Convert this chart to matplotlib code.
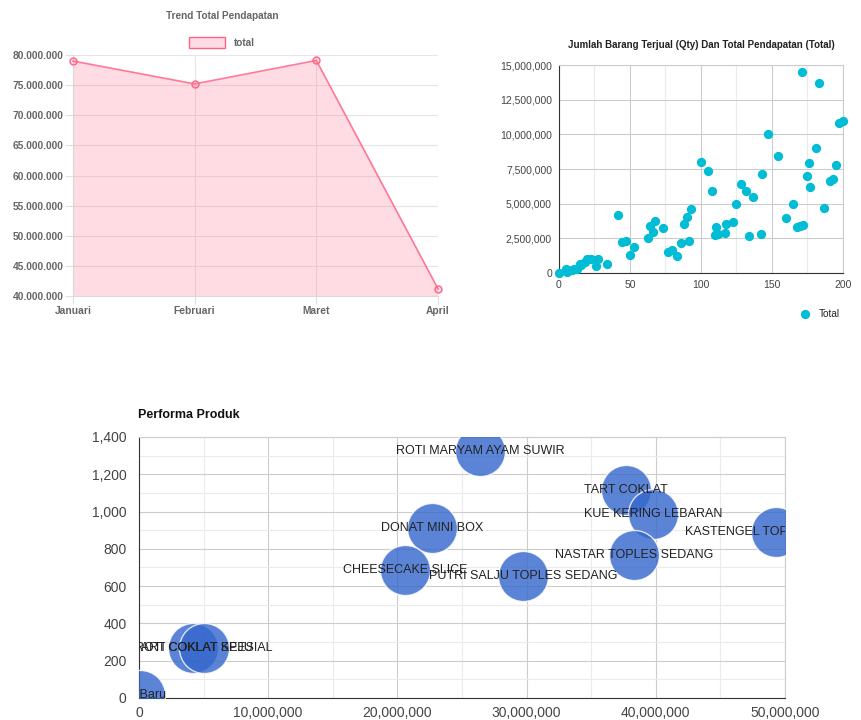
"""
Dashboard penjualan: trend pendapatan, qty vs total, dan performa produk.
"""

import matplotlib
matplotlib.use("Agg")
import matplotlib.pyplot as plt
from matplotlib.patches import Patch
from matplotlib.ticker import FuncFormatter, MultipleLocator

plt.rcParams["font.family"] = ["Liberation Sans", "DejaVu Sans"]

# --- data: trend total pendapatan ---
bulan = ["Januari", "Februari", "Maret", "April"]
total_bulanan = [79000000, 75200000, 79100000, 41200000]

# --- data: qty vs total pendapatan ---
qty = [0, 4.7, 6, 9, 10.6, 13, 14.6, 15.5, 18.3, 20, 22.3, 25.9, 27.7, 33.6,
       41.8, 44.7, 47, 50, 52.9, 63, 63.9, 66, 67.9, 73, 77, 79.9, 83, 86,
       87.9, 90, 91.9, 93, 99.9, 105, 107.8, 110, 110.7, 112.3, 117, 118,
       122.9, 125, 127.9, 132, 134, 137, 142, 143, 146.9, 154, 160, 165,
       168, 170, 172, 171, 175, 176, 177, 181, 183, 187, 190.6, 193, 195,
       197, 200]
total = [0, 310000, 100000, 200000, 260000, 310000, 620000, 600000, 800000,
         1030000, 1030000, 480000, 980000, 620000, 4200000, 2250000, 2340000,
         1270000, 1870000, 2500000, 3400000, 2970000, 3750000, 3280000,
         1550000, 1630000, 1240000, 2150000, 3500000, 4040000, 2320000,
         4640000, 8010000, 7340000, 5930000, 2750000, 3350000, 2800000,
         2920000, 3540000, 3680000, 5000000, 6410000, 5930000, 2700000,
         5480000, 2850000, 7150000, 10000000, 8470000, 4000000, 4950000,
         3350000, 3400000, 3470000, 14500000, 7000000, 7900000, 6200000,
         9040000, 13700000, 4660000, 6670000, 6750000, 7800000, 10800000,
         10980000]

# --- data: performa produk ---
produk = ["ROTI MARYAM AYAM SUWIR", "TART COKLAT", "KUE KERING LEBARAN",
          "KASTENGEL TOPLES SEDANG", "DONAT MINI BOX", "NASTAR TOPLES SEDANG",
          "CHEESECAKE SLICE", "PUTRI SALJU TOPLES SEDANG", "TART COKLAT KEJU",
          "ROTI COKLAT SPESIAL", "Kue Baru"]
pendapatan_produk = [26400000, 37700000, 39800000, 49300000, 22700000,
                     38300000, 20600000, 29700000, 4200000, 5000000, 50000]
qty_produk = [1325, 1115, 987, 890, 912, 767, 686, 654, 270, 270, 15]

fig = plt.figure(figsize=(8.61, 7.2), dpi=100)

# ---------- trend total pendapatan ----------
pink = "#ff6384"
ax1 = fig.add_axes([0.0848, 0.5889, 0.4239, 0.3347])
xs = list(range(len(bulan)))
ax1.fill_between(xs, total_bulanan, 40000000, color=pink, alpha=0.22, lw=0)
ax1.plot(xs, total_bulanan, color=(1, 0.39, 0.52, 0.85), lw=1.2, marker="o",
         markersize=5, markerfacecolor=(1, 0.39, 0.52, 0.2),
         markeredgecolor=pink, markeredgewidth=1, clip_on=False, zorder=3)
ax1.set_xlim(0, 3)
ax1.set_ylim(40000000, 80000000)
ax1.set_xticks(xs)
ax1.set_xticklabels(bulan)
ax1.yaxis.set_major_locator(MultipleLocator(5000000))
ax1.yaxis.set_major_formatter(
    FuncFormatter(lambda v, p: f"{v:,.0f}".replace(",", ".")))
ax1.grid(True, color="#e6e6e6", lw=0.8)
ax1.set_axisbelow(True)
for s in ["top", "right"]:
    ax1.spines[s].set_visible(False)
for s in ["left", "bottom"]:
    ax1.spines[s].set_color("#d9d9d9")
ax1.tick_params(colors="#e0e0e0", length=6, pad=1, labelsize=7.4,
                labelcolor="#666666")
for lab in ax1.get_xticklabels() + ax1.get_yticklabels():
    lab.set_fontweight("bold")
ax1.set_title("Trend Total Pendapatan", fontsize=7.2, fontweight="bold",
              color="#666666", pad=26, x=0.408)
ax1.legend(handles=[Patch(facecolor=(1, 0.39, 0.52, 0.22), edgecolor=pink,
                          label="total")],
           loc="lower center", bbox_to_anchor=(0.408, 1.005), frameon=False,
           handlelength=3.6, handleheight=1.2, prop={"size": 7.2, "weight": "bold"},
           labelcolor="#666666", borderaxespad=0.2)

# ---------- qty vs total ----------
cyan = "#00bcd4"
ax2 = fig.add_axes([0.6492, 0.6208, 0.3298, 0.2889])
ax2.scatter(qty, total, s=32, color=cyan, zorder=3, label="Total",
            clip_on=False)
ax2.set_xlim(0, 200)
ax2.set_ylim(0, 15000000)
ax2.xaxis.set_major_locator(MultipleLocator(50))
ax2.xaxis.set_minor_locator(MultipleLocator(25))
ax2.yaxis.set_major_locator(MultipleLocator(2500000))
ax2.yaxis.set_major_formatter(FuncFormatter(lambda v, p: f"{v:,.0f}"))
ax2.grid(True, which="major", color="#cccccc", lw=0.8)
ax2.grid(True, which="minor", axis="x", color="#ebebeb", lw=0.8)
ax2.set_axisbelow(True)
for s in ["top", "right"]:
    ax2.spines[s].set_color("#cccccc")
for s in ["left", "bottom"]:
    ax2.spines[s].set_color("#333333")
ax2.tick_params(which="both", length=0, labelsize=7.5, labelcolor="#444444", pad=5)
ax2.set_title("Jumlah Barang Terjual (Qty) Dan Total Pendapatan (Total)",
              fontsize=7, fontweight="bold", color="#222222", pad=12)
ax2.legend(loc="upper right", bbox_to_anchor=(1.02, -0.13), frameon=False,
           fontsize=7.2, handletextpad=0.3, markerscale=1.0, labelcolor="#222222")

# ---------- performa produk ----------
ax3 = fig.add_axes([0.1614, 0.0306, 0.7503, 0.3625])
ax3.scatter(pendapatan_produk, qty_produk, s=1300, color="#3366cc", alpha=0.8,
            edgecolors="white", linewidths=1, zorder=3)
for nama, xv, yv in zip(produk, pendapatan_produk, qty_produk):
    ax3.text(xv, yv, nama, ha="center", va="center", fontsize=9,
             color="#222222", zorder=4, clip_on=True)
ax3.set_xlim(0, 50000000)
ax3.set_ylim(0, 1400)
ax3.xaxis.set_major_locator(MultipleLocator(10000000))
ax3.xaxis.set_minor_locator(MultipleLocator(5000000))
ax3.yaxis.set_major_locator(MultipleLocator(200))
ax3.yaxis.set_minor_locator(MultipleLocator(100))
ax3.xaxis.set_major_formatter(FuncFormatter(lambda v, p: f"{v:,.0f}"))
ax3.yaxis.set_major_formatter(FuncFormatter(lambda v, p: f"{v:,.0f}"))
ax3.grid(True, which="major", color="#cccccc", lw=0.8)
ax3.grid(True, which="minor", color="#ebebeb", lw=0.8)
ax3.set_axisbelow(True)
for s in ["top", "right"]:
    ax3.spines[s].set_color("#cccccc")
for s in ["left", "bottom"]:
    ax3.spines[s].set_color("#333333")
ax3.tick_params(which="both", length=0, labelsize=10, labelcolor="#444444")
ax3.tick_params(axis="y", pad=9)
ax3.tick_params(axis="x", pad=6)
ax3.set_title("Performa Produk", fontsize=9, fontweight="bold", color="#111111",
              loc="left", pad=14, x=-0.002)

fig.savefig("out.png", dpi=100)
